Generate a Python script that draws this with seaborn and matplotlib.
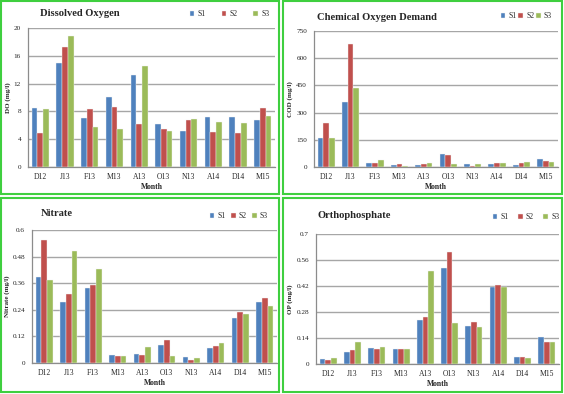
import numpy as np
import pandas as pd
import matplotlib
matplotlib.use("Agg")
import matplotlib.pyplot as plt
from matplotlib.patches import Rectangle
import seaborn as sns

###############
# Data
###############
months = ['D12', 'J13', 'F13', 'M13', 'A13', 'O13', 'N13', 'A14', 'D14', 'M15']
sites = ['S1', 'S2', 'S3']

do_s1 = [8.5, 15.0, 7.0, 10.1, 13.2, 6.2, 5.2, 7.2, 7.2, 6.7]
do_s2 = [4.9, 17.3, 8.4, 8.6, 6.2, 5.5, 6.7, 5.1, 4.9, 8.5]
do_s3 = [8.3, 18.9, 5.75, 5.5, 14.5, 5.2, 6.9, 6.5, 6.4, 7.4]

cod_s1 = [161, 360, 20, 11, 11, 70, 16, 16, 11, 44]
cod_s2 = [240, 679, 20, 16, 16, 64, 7, 24, 24, 33]
cod_s3 = [161, 435, 38, 7, 20, 15, 16, 20, 29, 29]

no3_s1 = [0.389, 0.276, 0.338, 0.036, 0.040, 0.081, 0.029, 0.069, 0.203, 0.273]
no3_s2 = [0.553, 0.310, 0.351, 0.033, 0.038, 0.102, 0.015, 0.078, 0.228, 0.293]
no3_s3 = [0.375, 0.504, 0.423, 0.031, 0.074, 0.031, 0.023, 0.090, 0.221, 0.257]

op_s1 = [0.029, 0.066, 0.086, 0.083, 0.237, 0.519, 0.205, 0.413, 0.036, 0.147]
op_s2 = [0.023, 0.075, 0.083, 0.083, 0.255, 0.601, 0.224, 0.425, 0.038, 0.120]
op_s3 = [0.030, 0.120, 0.092, 0.079, 0.499, 0.223, 0.199, 0.415, 0.030, 0.120]

colors = ['#4F81BD', '#C0504D', '#9BBB59']
border_green = '#3FCF3F'
grid_gray = '#A6A6A6'

sns.set_style('white')
plt.rcParams['font.family'] = ['Liberation Serif', 'DejaVu Serif']


def longForm(s1, s2, s3):
    return pd.DataFrame({
        'Month': months * 3,
        'Site': ['S1'] * 10 + ['S2'] * 10 + ['S3'] * 10,
        'value': list(s1) + list(s2) + list(s3),
    })


# panel rect (px), axes rect (px), title pos, legend pos + spacing, ylabel
panels = [
    dict(data=(do_s1, do_s2, do_s3), box=(1, 1, 279, 194), ax=(28, 28, 275, 167),
         title='Dissolved Oxygen', tpos=(40, 13), lpos=(186, 14), cs=2.1,
         ylabel='DO (mg/l)', ylim=20, step=4, ylx=8),
    dict(data=(cod_s1, cod_s2, cod_s3), box=(283, 1, 562, 194), ax=(314, 31, 558, 167),
         title='Chemical Oxygen Demand', tpos=(317, 17), lpos=(497, 16), cs=0.25,
         ylabel='COD (mg/l)', ylim=750, step=150, ylx=290),
    dict(data=(no3_s1, no3_s2, no3_s3), box=(1, 198, 279, 392), ax=(32, 230, 277, 363),
         title='Nitrate', tpos=(41, 213), lpos=(206, 216), cs=0.7,
         ylabel='Nitrate (mg/l)', ylim=0.6, step=0.12, ylx=7),
    dict(data=(op_s1, op_s2, op_s3), box=(283, 198, 562, 392), ax=(316, 234, 559, 364),
         title='Orthophosphate', tpos=(317, 215), lpos=(489, 217), cs=1.25,
         ylabel='OP (mg/l)', ylim=0.7, step=0.14, ylx=290),
]

W, H = 564, 394
fig = plt.figure(figsize=(W / 100, H / 100), dpi=100)

for p in panels:
    x0, y0, x1, y1 = p['box']
    fig.patches.append(Rectangle((x0 / W, 1 - y1 / H), (x1 - x0) / W, (y1 - y0) / H,
                                 transform=fig.transFigure, fill=False,
                                 edgecolor=border_green, linewidth=1.5, zorder=0))
    ax0, ay0, ax1, ay1 = p['ax']
    ax = fig.add_axes([ax0 / W, 1 - ay1 / H, (ax1 - ax0) / W, (ay1 - ay0) / H])
    df = longForm(*p['data'])
    sns.barplot(data=df, x='Month', y='value', hue='Site', palette=colors,
                width=0.7, ax=ax, saturation=1, linewidth=0.3, edgecolor='#F2F2F2',
                zorder=3)
    ax.set_ylim(0, p['ylim'])
    ticks = np.round(np.arange(0, p['ylim'] + p['step'] / 2, p['step']), 4)
    ax.set_yticks(ticks)
    ax.set_yticklabels(['{:g}'.format(t) for t in ticks])
    ax.set_xlim(-0.5, 9.5)
    ax.grid(axis='y', color=grid_gray, linewidth=1.0, zorder=0)
    ax.set_axisbelow(True)
    for s in ['top', 'right']:
        ax.spines[s].set_visible(False)
    for s in ['left', 'bottom']:
        ax.spines[s].set_color('#8C8C8C')
        ax.spines[s].set_linewidth(0.9)
    ax.tick_params(axis='y', labelsize=5.2, length=3, color='#8C8C8C', width=0.8, pad=2)
    ax.tick_params(axis='x', labelsize=5.5, length=0, pad=4)
    ax.set_xlabel('Month', fontsize=5.5, fontweight='bold', labelpad=2)
    ax.set_ylabel('')
    fig.text(p['ylx'] / W, 1 - (ay0 + ay1) / 2 / H, p['ylabel'], rotation=90,
             fontsize=5, fontweight='bold', ha='center', va='center')
    fig.text(p['tpos'][0] / W, 1 - p['tpos'][1] / H, p['title'], fontsize=7.6,
             fontweight='bold', ha='left', va='center')
    handles, labels = ax.get_legend_handles_labels()
    ax.legend(handles, labels, loc='center left', ncol=3, frameon=False,
              bbox_to_anchor=(p['lpos'][0] / W, 1 - p['lpos'][1] / H),
              bbox_transform=fig.transFigure, fontsize=5.5, handlelength=0.6,
              handleheight=0.6, handletextpad=0.4, columnspacing=p['cs'], borderpad=0)

plt.savefig('out.png', dpi=100)
